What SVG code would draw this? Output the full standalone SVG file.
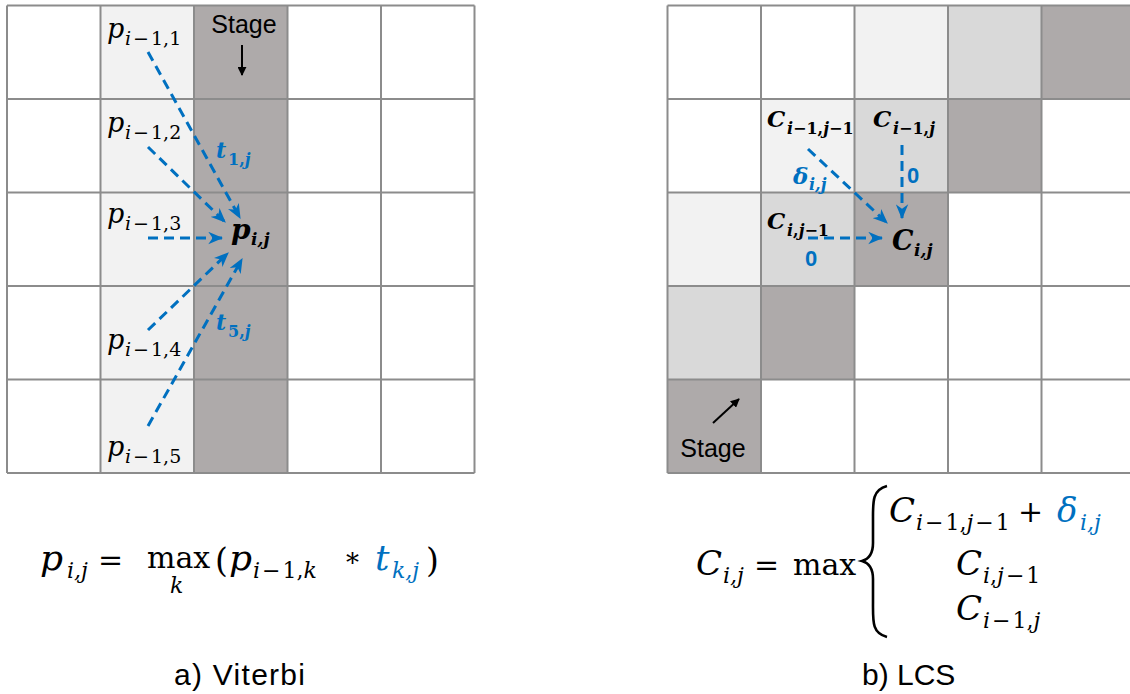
<svg xmlns="http://www.w3.org/2000/svg" width="1130" height="694" viewBox="0 0 1130 694">
<style>
.grid{stroke:#8c8c8c;stroke-width:2;fill:none}
.w{fill:#ffffff}.l{fill:#f2f2f2}.m{fill:#d9d9d9}.d{fill:#aeaaaa}
.math{font-family:"DejaVu Serif","Liberation Serif",serif;fill:#000}
.it{font-style:italic}
.b{font-weight:bold}
.sans{font-family:"Liberation Sans",Arial,sans-serif;fill:#000}
.blue{fill:#0070c0}
.dash{stroke:#0070c0;stroke-width:3;stroke-dasharray:10 6;fill:none;marker-end:url(#ba)}
.blk{stroke:#000;stroke-width:2;fill:none;marker-end:url(#ka)}
</style>
<defs>
<marker id="ba" viewBox="0 0 12 10" refX="11" refY="5" markerWidth="15" markerHeight="13" markerUnits="userSpaceOnUse" orient="auto">
<path d="M0,0 L12,5 L0,10 L3.5,5 z" fill="#0070c0"/>
</marker>
<marker id="ka" viewBox="0 0 10 10" refX="9" refY="5" markerWidth="9" markerHeight="9" markerUnits="userSpaceOnUse" orient="auto">
<path d="M0,0 L10,5 L0,10 z" fill="#000"/>
</marker>
</defs>
<rect width="1130" height="694" fill="#ffffff"/>

<!-- Left grid (Viterbi) -->
<g id="viterbi-grid">
<rect class="l" x="100.5" y="5.5" width="93.5" height="467.5"/>
<rect class="d" x="194" y="5.5" width="93.5" height="467.5"/>
<path class="grid" d="M7,5.5V473M100.5,5.5V473M194,5.5V473M287.5,5.5V473M381,5.5V473M474.5,5.5V473M7,5.5H474.5M7,99H474.5M7,192.5H474.5M7,286H474.5M7,379.5H474.5M7,473H474.5"/>
</g>

<!-- Right grid (LCS) -->
<g id="lcs-grid">
<rect class="l" x="854.5" y="5.5" width="93.5" height="93.5"/>
<rect class="m" x="948" y="5.5" width="93.5" height="93.5"/>
<rect class="d" x="1041.5" y="5.5" width="93.5" height="93.5"/>
<rect class="l" x="761" y="99" width="93.5" height="93.5"/>
<rect class="m" x="854.5" y="99" width="93.5" height="93.5"/>
<rect class="d" x="948" y="99" width="93.5" height="93.5"/>
<rect class="l" x="667.5" y="192.5" width="93.5" height="93.5"/>
<rect class="m" x="761" y="192.5" width="93.5" height="93.5"/>
<rect class="d" x="854.5" y="192.5" width="93.5" height="93.5"/>
<rect class="m" x="667.5" y="286" width="93.5" height="93.5"/>
<rect class="d" x="761" y="286" width="93.5" height="93.5"/>
<rect class="d" x="667.5" y="379.5" width="93.5" height="93.5"/>
<path class="grid" d="M667.5,5.5V473M761,5.5V473M854.5,5.5V473M948,5.5V473M1041.5,5.5V473M667.5,5.5H1135M667.5,99H1135M667.5,192.5H1135M667.5,286H1135M667.5,379.5H1135M667.5,473H1135"/>
</g>

<!-- Connectors -->
<g id="connectors">
<path class="dash" d="M148,52 L240,218"/>
<path class="dash" d="M148,147 L225,222"/>
<path class="dash" d="M148,238 L222,238"/>
<path class="dash" d="M148,330 L228,253"/>
<path class="dash" d="M148,426 L242,259"/>
<path class="dash" d="M808,149 L887,223"/>
<path class="dash" d="M902,145 L902,218"/>
<path class="dash" d="M808,238 L882,238"/>
<path class="blk" d="M242,45 L242,75"/>
<path class="blk" d="M713,423 L739,399"/>
</g>

<!-- Viterbi labels -->
<g id="stage-a"><text class="sans" x="244" y="33" font-size="25" text-anchor="middle">Stage</text></g>
<g id="p1"><text class="math it" x="107" y="38" font-size="27">p</text><text class="math" x="125" y="45" font-size="19"><tspan class="it">i</tspan><tspan dx="2">−</tspan><tspan dx="2">1,1</tspan></text></g>
<g id="p2"><text class="math it" x="107" y="132" font-size="27">p</text><text class="math" x="125" y="139" font-size="19"><tspan class="it">i</tspan><tspan dx="2">−</tspan><tspan dx="2">1,2</tspan></text></g>
<g id="p3"><text class="math it" x="107" y="223" font-size="27">p</text><text class="math" x="125" y="230" font-size="19"><tspan class="it">i</tspan><tspan dx="2">−</tspan><tspan dx="2">1,3</tspan></text></g>
<g id="p4"><text class="math it" x="107" y="349" font-size="27">p</text><text class="math" x="125" y="356" font-size="19"><tspan class="it">i</tspan><tspan dx="2">−</tspan><tspan dx="2">1,4</tspan></text></g>
<g id="p5"><text class="math it" x="107" y="456" font-size="27">p</text><text class="math" x="125" y="463" font-size="19"><tspan class="it">i</tspan><tspan dx="2">−</tspan><tspan dx="2">1,5</tspan></text></g>
<g id="pij"><text class="math it b" x="231" y="239" font-size="28">p</text><text class="math it b" x="251" y="245" font-size="17">i,j</text></g>
<g id="t1j"><text class="math it b blue" x="216" y="158" font-size="22">t</text><text class="math b blue" x="228" y="165" font-size="16">1,<tspan class="it">j</tspan></text></g>
<g id="t5j"><text class="math it b blue" x="216" y="330" font-size="22">t</text><text class="math b blue" x="228" y="337" font-size="16">5,<tspan class="it">j</tspan></text></g>

<!-- LCS labels -->
<g id="c-i1j1"><text class="math it b" x="767" y="127" font-size="23">C</text><text class="math b" x="787" y="134" font-size="16"><tspan class="it">i</tspan>−1,<tspan class="it">j</tspan>−1</text></g>
<g id="c-i1j"><text class="math it b" x="873" y="127" font-size="23">C</text><text class="math b" x="893" y="134" font-size="16"><tspan class="it">i</tspan>−1,<tspan class="it">j</tspan></text></g>
<g id="delta"><text class="math it b blue" x="793" y="184" font-size="23">δ</text><text class="math it b blue" x="809" y="190" font-size="16">i,j</text></g>
<g id="zero-v"><text class="sans b blue" x="907" y="183" font-size="22">0</text></g>
<g id="c-ij1"><text class="math it b" x="767" y="229" font-size="23">C</text><text class="math b" x="787" y="236" font-size="16"><tspan class="it">i</tspan>,<tspan class="it">j</tspan>−1</text></g>
<g id="zero-h"><text class="sans b blue" x="805" y="266" font-size="22">0</text></g>
<g id="cij"><text class="math it b" x="892" y="250" font-size="27">C</text><text class="math it b" x="914" y="256" font-size="17">i,j</text></g>
<g id="stage-b"><text class="sans" x="713" y="457" font-size="25" text-anchor="middle">Stage</text></g>

<!-- Formulas -->
<g id="formula-a">
<text class="math it" x="40" y="570" font-size="36">p</text>
<text class="math it" x="67" y="578" font-size="22">i,j</text>
<text class="math" x="98" y="570" font-size="30">=</text>
<text class="math" x="147" y="568" font-size="30">max</text>
<text class="math it" x="170" y="593" font-size="22">k</text>
<text class="math" x="215" y="572" font-size="33">(</text>
<text class="math it" x="229" y="570" font-size="36">p</text>
<text class="math" x="253" y="578" font-size="22"><tspan class="it">i</tspan><tspan dx="2">−</tspan><tspan dx="2">1,</tspan><tspan class="it">k</tspan></text>
<text class="math" x="346" y="572" font-size="26">*</text>
<text class="math it blue" x="375" y="570" font-size="36">t</text>
<text class="math it blue" x="392" y="578" font-size="22">k,j</text>
<text class="math" x="426" y="572" font-size="33">)</text>
</g>
<g id="formula-b">
<text class="math it" x="696" y="575" font-size="34">C</text>
<text class="math it" x="723" y="583" font-size="22">i,j</text>
<text class="math" x="754" y="575" font-size="30">=</text>
<text class="math" x="793" y="575" font-size="30">max</text>
<path d="M887,486 C872,490 873,502 873,520 L873,543 C873,554 869,559 862,561 C869,563 873,568 873,579 L873,603 C873,622 872,633 887,637" stroke="#000" stroke-width="2.6" fill="none"/>
<text class="math it" x="889" y="522" font-size="34">C</text>
<text class="math" x="916" y="530" font-size="22"><tspan class="it">i</tspan><tspan dx="2">−</tspan><tspan dx="2">1,</tspan><tspan class="it">j</tspan><tspan dx="2">−</tspan><tspan dx="2">1</tspan></text>
<text class="math" x="1018" y="522" font-size="30">+</text>
<text class="math it blue" x="1057" y="522" font-size="34">δ</text>
<text class="math it blue" x="1080" y="530" font-size="22">i,j</text>
<text class="math it" x="956" y="575" font-size="34">C</text>
<text class="math" x="983" y="583" font-size="22"><tspan class="it">i</tspan>,<tspan class="it">j</tspan><tspan dx="2">−</tspan><tspan dx="2">1</tspan></text>
<text class="math it" x="956" y="620" font-size="34">C</text>
<text class="math" x="983" y="628" font-size="22"><tspan class="it">i</tspan><tspan dx="2">−</tspan><tspan dx="2">1,</tspan><tspan class="it">j</tspan></text>
</g>

<g id="captions">
<text class="sans" x="174" y="685" font-size="30" textLength="131" lengthAdjust="spacing">a) Viterbi</text>
<text class="sans" x="862" y="685" font-size="30">b) LCS</text>
</g>
</svg>
